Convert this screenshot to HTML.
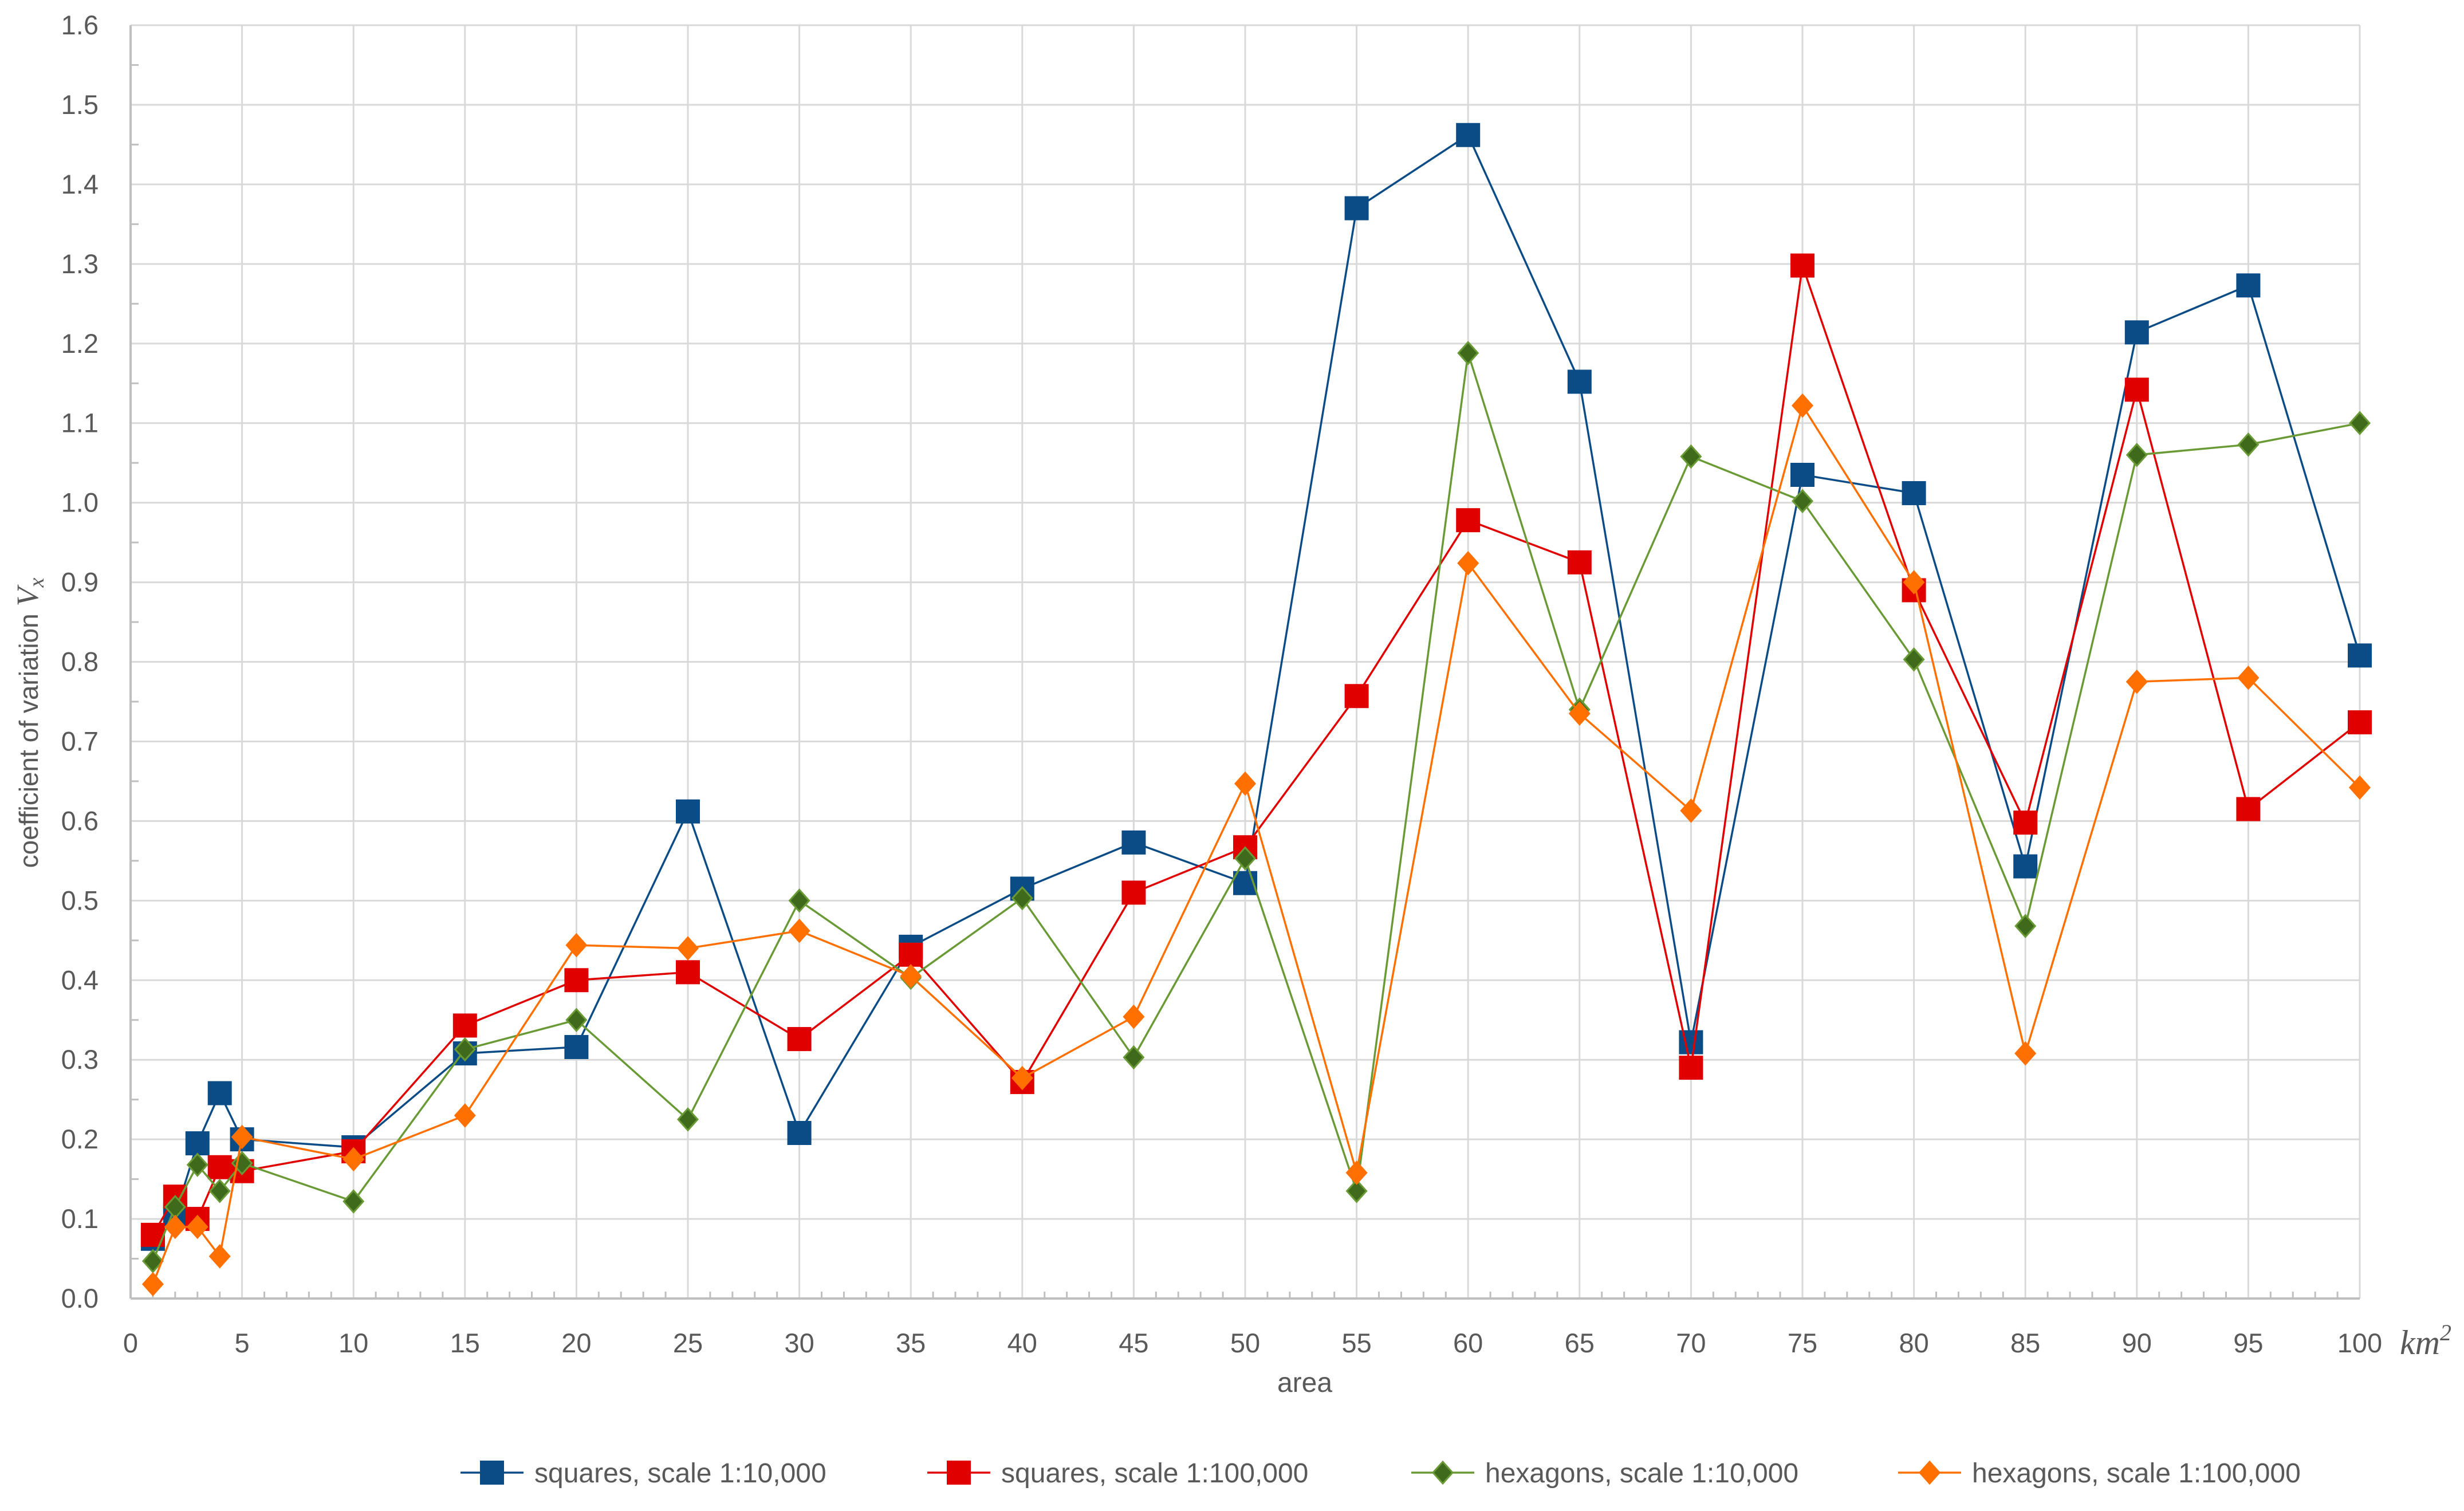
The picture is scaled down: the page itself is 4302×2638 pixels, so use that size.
<!DOCTYPE html>
<html><head><meta charset="utf-8"><style>
html,body{margin:0;padding:0;background:#fff;}
svg text{font-family:"Liberation Sans",sans-serif;fill:#595959;}
</style></head><body>
<svg id="chart" width="4302" height="2633" viewBox="0 0 4302 2633" xmlns="http://www.w3.org/2000/svg">
<g id="grid"></g>
<g id="axes"></g>
<g id="series"></g>
<text x="2278" y="2430" font-size="48" text-anchor="middle">area</text>
<text x="4190" y="2364" font-size="60" font-style="italic" style="font-family:'Liberation Serif',serif">km<tspan font-size="40" dy="-24">2</tspan></text>
<text transform="translate(66,1262) rotate(-90)" font-size="46" text-anchor="middle">coefficient of variation <tspan font-style="italic" style="font-family:'Liberation Serif',serif" font-size="54">V</tspan><tspan font-style="italic" style="font-family:'Liberation Serif',serif" font-size="38" dy="10">x</tspan></text>
<g id="legend"></g>
</svg>
<script>
const xs = [1,2,3,4,5,10,15,20,25,30,35,40,45,50,55,60,65,70,75,80,85,90,95,100];
const sqr10k = [0.075,0.105,0.195,0.258,0.2,0.19,0.308,0.316,0.612,0.208,0.442,0.515,0.573,0.522,1.37,1.462,1.152,0.322,1.035,1.012,0.543,1.214,1.273,0.808];
const sqr100k = [0.08,0.128,0.1,0.165,0.16,0.185,0.343,0.4,0.41,0.326,0.432,0.272,0.51,0.567,0.757,0.978,0.925,0.29,1.298,0.89,0.598,1.142,0.615,0.724];
const hex10k = [0.047,0.115,0.168,0.135,0.17,0.122,0.313,0.35,0.225,0.5,0.403,0.503,0.303,0.553,0.135,1.188,0.74,1.058,1.002,0.803,0.468,1.06,1.073,1.1];
const hex100k = [0.018,0.09,0.09,0.053,0.203,0.175,0.23,0.444,0.44,0.462,0.405,0.277,0.354,0.647,0.158,0.924,0.735,0.613,1.122,0.9,0.308,0.775,0.78,0.642];
const xTicks = [0,5,10,15,20,25,30,35,40,45,50,55,60,65,70,75,80,85,90,95,100];
const yTicks = [0,0.1,0.2,0.3,0.4,0.5,0.6,0.7,0.8,0.9,1.0,1.1,1.2,1.3,1.4,1.5,1.6];
const legendLabels = ["squares, scale 1:10,000","squares, scale 1:100,000","hexagons, scale 1:10,000","hexagons, scale 1:100,000"];

const L=228,R=4120,T=44,B=2267;
const X=v=>L+(v-0)/100*(R-L);
const Y=v=>B-(v-0)/1.6*(B-T);
const NS="http://www.w3.org/2000/svg";
function mk(tag,attrs,parent){const e=document.createElementNS(NS,tag);for(const k in attrs)e.setAttribute(k,attrs[k]);parent.appendChild(e);return e;}
const grid=document.getElementById('grid'),axes=document.getElementById('axes'),ser=document.getElementById('series'),leg=document.getElementById('legend');

yTicks.forEach(v=>{
  const l=mk('line',{x1:L,x2:R,y1:Y(v),y2:Y(v),stroke:'#d9d9d9','stroke-width':3},grid);
  
  
  const t=mk('text',{x:172,y:Y(v)+16,'font-size':47,'text-anchor':'end'},axes);
  t.textContent=v.toFixed(1);
  
  
  if(v<1.6){const m=mk('line',{x1:L,x2:L+14,y1:Y(v+0.05),y2:Y(v+0.05),stroke:'#bfbfbf','stroke-width':3},axes);
  
  }
});
xTicks.forEach(v=>{
  const l=mk('line',{x1:X(v),x2:X(v),y1:T,y2:B,stroke:'#d9d9d9','stroke-width':3},grid);
  
  
  const t=mk('text',{x:X(v),y:2361,'font-size':47,'text-anchor':'middle'},axes);
  t.textContent=v;
  
  
});
for(let v=1;v<100;v++){if(v%5===0)continue;
  const m=mk('line',{x1:X(v),x2:X(v),y1:B,y2:B-12,stroke:'#bfbfbf','stroke-width':3},axes);
  
  }
const ax1=mk('line',{x1:L,x2:L,y1:T,y2:B,stroke:'#bfbfbf','stroke-width':4},axes);


const ax2=mk('line',{x1:L,x2:R,y1:B,y2:B,stroke:'#bfbfbf','stroke-width':4},axes);



const defs=[
 {d:sqr10k,c:'#0b4c86',f:'#0b4c86',s:'square',n:'squares-10k'},
 {d:sqr100k,c:'#e00000',f:'#e00000',s:'square',n:'squares-100k'},
 {d:hex10k,c:'#6a9a35',f:'#3f6a1c',s:'diamond',n:'hexagons-10k'},
 {d:hex100k,c:'#ff7000',f:'#ff7000',s:'diamond',n:'hexagons-100k'}];
function marker(px,py,d,parent){
  let e;
  if(d.s==='square') e=mk('rect',{x:px-21,y:py-21,width:42,height:42,fill:d.f},parent);
  else e=mk('polygon',{points:`${px},${py-19} ${px+17},${py} ${px},${py+19} ${px-17},${py}`,fill:d.f,stroke:d.c,'stroke-width':3},parent);
  return e;
}
defs.forEach(d=>{
  const g=mk('g',{},ser);
  
  
  const pl=mk('polyline',{points:xs.map((x,i)=>X(x)+','+Y(d.d[i])).join(' '),fill:'none',stroke:d.c,'stroke-width':3.5},g);
  
  
  xs.forEach((x,i)=>{const m=marker(X(x),Y(d.d[i]),d,g);
    
    });
});
const lx=[804,1619,2464,3314];
defs.forEach((d,i)=>{
  const g=mk('g',{},leg);
  
  
  mk('line',{x1:lx[i],x2:lx[i]+110,y1:2571,y2:2571,stroke:d.c,'stroke-width':3.5},g);
  marker(lx[i]+55,2571,d,g);
  const t=mk('text',{x:lx[i]+129,y:2588,'font-size':48},g);
  t.textContent=legendLabels[i];
});
</script>
</body></html>
